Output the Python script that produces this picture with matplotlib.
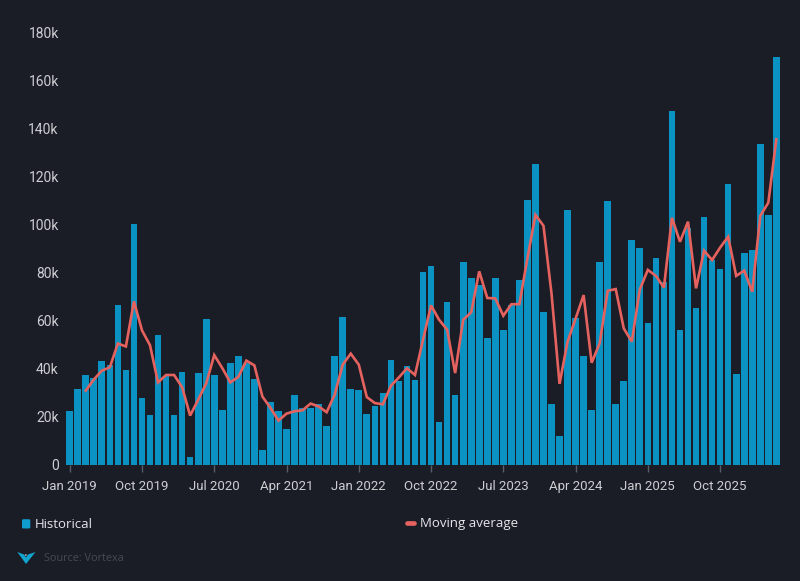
"""Monthly volumes with a moving average, dark dashboard style."""
import matplotlib
matplotlib.use("Agg")  # headless: write files, never open a window
import matplotlib.pyplot as plt
from matplotlib.lines import Line2D
from matplotlib.patches import Circle, FancyBboxPatch, Polygon
import numpy as np

BG = "#1a1d26"
BAR = "#0a93c2"
LINE = "#e5625f"
TICK_TEXT = "#ccced2"

# monthly values in thousands, Jan 2019 onwards
historical = [
    22.5, 31.7, 37.4, 36.2, 43.3, 41.5, 66.5, 39.7, 100.4, 28.0, 21.0, 54.2,
    37.0, 21.0, 38.6, 3.2, 38.2, 61.0, 37.4, 22.8, 42.6, 45.5, 42.5, 35.8,
    6.4, 26.4, 22.5, 15.1, 29.2, 23.8, 23.8, 25.6, 16.4, 45.3, 61.7, 31.7,
    31.4, 21.1, 24.4, 30.0, 43.9, 35.1, 41.4, 35.6, 80.6, 82.9, 17.9, 67.9,
    29.3, 84.6, 78.0, 75.0, 53.0, 78.0, 56.2, 66.7, 77.2, 110.3, 125.4, 63.8,
    25.4, 12.1, 106.1, 61.4, 45.4, 22.9, 84.6, 110.1, 25.4, 35.1, 93.9, 90.6,
    59.0, 86.4, 76.1, 147.4, 56.1, 98.6, 65.4, 103.3, 85.4, 81.5, 116.9, 37.8,
    88.5, 89.4, 133.6, 104.0, 169.9,
]
# first two months have no average yet
moving_avg = [
    None, None, 31.0, 35.6, 39.3, 40.7, 50.6, 49.4, 68.2, 56.1, 49.9, 34.4,
    37.5, 37.5, 32.4, 20.6, 27.2, 34.0, 45.8, 40.4, 34.4, 36.7, 43.5, 41.5,
    28.5, 23.8, 18.5, 21.4, 22.4, 22.8, 25.6, 24.4, 22.0, 29.3, 41.8, 46.4,
    41.8, 28.3, 25.8, 25.3, 33.0, 36.5, 40.3, 37.5, 52.2, 66.5, 60.5, 56.4,
    38.3, 60.5, 63.6, 80.7, 69.6, 69.4, 62.2, 67.0, 67.0, 86.1, 104.2, 99.7,
    71.5, 33.8, 51.4, 61.0, 70.8, 42.6, 50.7, 72.6, 73.3, 56.9, 51.4, 73.2,
    81.3, 78.8, 73.9, 103.0, 93.0, 101.4, 73.6, 89.3, 85.4, 90.6, 95.1, 78.8,
    81.0, 72.2, 103.8, 109.3, 135.7,
]
x_labels = ["Jan 2019", "Oct 2019", "Jul 2020", "Apr 2021", "Jan 2022",
            "Oct 2022", "Jul 2023", "Apr 2024", "Jan 2025", "Oct 2025"]
y_ticks = [0, 20, 40, 60, 80, 100, 120, 140, 160, 180]
y_labels = ["0"] + [f"{v}k" for v in y_ticks[1:]]

W, H = 800, 581
plt.rcParams["font.family"] = "Roboto"
fig = plt.figure(figsize=(W / 100, H / 100), dpi=100, facecolor=BG)

# axes box placed in pixels: y=0 sits at 465, 180k at 33
left, right, top, bottom = 65.7, 780, 33, 465
ax = fig.add_axes([left / W, 1 - bottom / H, (right - left) / W, (bottom - top) / H],
                  facecolor=BG)
months = np.arange(len(historical))
ax.bar(months, historical, width=0.83, color=BAR, linewidth=0)
ma = np.array([np.nan if v is None else v for v in moving_avg])
ax.plot(months, ma, color=LINE, lw=1.9, solid_joinstyle="miter", zorder=3)

step = 8.03
ax.set_xlim((left - 69.7) / step, (right - 69.7) / step)
ax.set_ylim(0, 180)
ax.set_xticks(np.arange(len(x_labels)) * 9, x_labels)
ax.set_yticks(y_ticks, y_labels)
ax.tick_params(axis="x", length=5, width=1, color="#5a5e68", labelcolor=TICK_TEXT,
               labelsize=9.5, pad=6)
ax.tick_params(axis="y", length=0, labelcolor=TICK_TEXT, labelsize=10, pad=5)
for s in ax.spines.values():
    s.set_visible(False)

# legend row, laid out by hand because the entries sit far apart
ty = 1 - 527.5 / H
fig.add_artist(FancyBboxPatch((22 / W, 1 - 528.5 / H), 8.3 / W, 9.3 / H,
                              boxstyle="round,pad=0,rounding_size=0.002",
                              transform=fig.transFigure, facecolor="#0f9cce", edgecolor="none"))
fig.text(35 / W, ty, "Historical", color="#e4e6ea", fontsize=9.5, family="Open Sans", va="baseline")
fig.add_artist(Line2D([407 / W, 413.5 / W], [1 - 523 / H] * 2, color=LINE, lw=3.4,
                      solid_capstyle="round"))
fig.text(420 / W, ty, "Moving average", color="#e4e6ea", fontsize=9.5, family="Open Sans", va="baseline")

# source footer with a small chevron mark
fig.add_artist(Polygon([(17.3 / W, 1 - 552 / H), (26 / W, 1 - 564 / H), (35.5 / W, 1 - 552 / H),
                        (28 / W, 1 - 554.5 / H), (26 / W, 1 - 557.5 / H), (24 / W, 1 - 554.5 / H)],
                       closed=True, transform=fig.transFigure, facecolor="#11a5cf", edgecolor="none"))
fig.add_artist(Circle((25.8 / W, 1 - 555 / H), 0.0012, transform=fig.transFigure,
                      facecolor="#d8dde2", edgecolor="none"))
fig.text(43.8 / W, 1 - 561 / H, "Source: Vortexa", color="#474a54", fontsize=7.8,
         family="Open Sans", va="baseline")

fig.savefig("out.png", dpi=100, facecolor=BG)
